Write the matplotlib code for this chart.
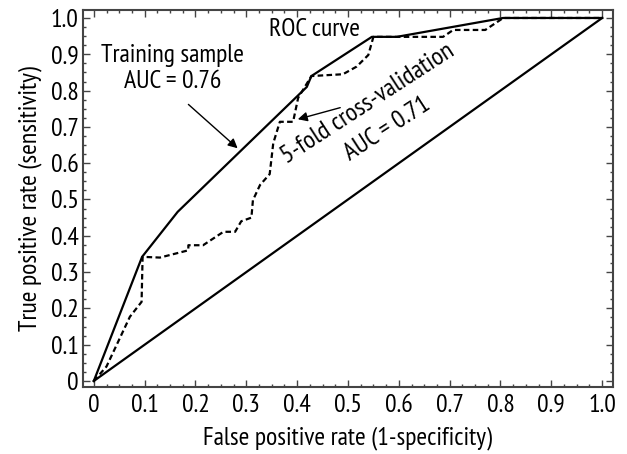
import numpy as np
import matplotlib.pyplot as plt
from matplotlib.ticker import MultipleLocator

plt.rcParams['font.family'] = ['PT Sans Narrow', 'DejaVu Sans']

# ── Data ──
train_fpr = [0.0, 0.095, 0.165, 0.419, 0.428, 0.547, 0.596, 0.805, 1.0]
train_tpr = [0.0, 0.342, 0.466, 0.81, 0.84, 0.948, 0.948, 1.0, 1.0]

cv_fpr = [0.0, 0.025, 0.071, 0.094, 0.096, 0.13, 0.186, 0.186, 0.215, 0.255, 0.278,
          0.29, 0.31, 0.313, 0.327, 0.346, 0.353, 0.366, 0.392, 0.402, 0.428,
          0.49, 0.517, 0.54, 0.55, 0.596, 0.687, 0.707, 0.77, 0.8, 0.805, 1.0]
cv_tpr = [0.0, 0.04, 0.177, 0.218, 0.342, 0.34, 0.36, 0.374, 0.374, 0.411, 0.411,
          0.44, 0.45, 0.498, 0.54, 0.57, 0.655, 0.714, 0.714, 0.78, 0.84,
          0.845, 0.866, 0.898, 0.948, 0.948, 0.948, 0.967, 0.967, 0.995, 1.0, 1.0]

chance = [0.0, 1.0]

ticks = np.round(np.arange(0, 1.01, 0.1), 1)
labels = ['0'] + [f'{t:.1f}' for t in ticks[1:]]

# ── Plot ──
fs = 18.5
fig = plt.figure(figsize=(6.27, 4.54), dpi=100)
ax = fig.add_axes([0.132, 0.1476, 0.846, 0.8304])

ax.plot(train_fpr, train_tpr, 'k-', linewidth=1.6)
ax.plot(cv_fpr, cv_tpr, 'k', linestyle=(0, (2.5, 1.5)), linewidth=1.6)
ax.plot(chance, chance, 'k-', linewidth=1.6)

ax.set_xlim(-0.0217, 1.0217)
ax.set_ylim(-0.0165, 1.022)
ax.set_xticks(ticks)
ax.set_xticklabels(labels)
ax.set_yticks(ticks)
ax.set_yticklabels(labels)
ax.xaxis.set_minor_locator(MultipleLocator(0.025))
ax.yaxis.set_minor_locator(MultipleLocator(0.025))
ax.tick_params(which='both', direction='in', top=True, right=True, color='#444444',
               labelsize=fs)
ax.tick_params(which='major', length=5, width=1)
ax.tick_params(which='minor', length=2.5, width=1)
ax.tick_params(axis='x', pad=5)
ax.tick_params(axis='y', pad=3)
for s in ax.spines.values():
    s.set_color('#444444')
    s.set_linewidth(1.5)

ax.set_xlabel('False positive rate (1-specificity)', fontsize=fs, labelpad=7)
ax.set_ylabel('True positive rate (sensitivity)', fontsize=fs, labelpad=6)

ax.text(0.435, 0.967, 'ROC curve', fontsize=fs, ha='center', va='center')
ax.text(0.155, 0.898, 'Training sample', fontsize=fs, ha='center', va='center')
ax.text(0.155, 0.824, 'AUC = 0.76', fontsize=fs, ha='center', va='center')
ax.annotate('', xy=(0.287, 0.636), xytext=(0.182, 0.767),
            arrowprops=dict(arrowstyle='-|>', color='k', lw=1, mutation_scale=14))

ax.text(0.54, 0.765, '5-fold cross-validation', fontsize=fs, ha='center', va='center',
        rotation=33, rotation_mode='anchor')
ax.text(0.577, 0.695, 'AUC = 0.71', fontsize=fs, ha='center', va='center',
        rotation=33, rotation_mode='anchor')
ax.annotate('', xy=(0.396, 0.719), xytext=(0.49, 0.755),
            arrowprops=dict(arrowstyle='-|>', color='k', lw=1, mutation_scale=14))

plt.savefig('out.png', dpi=100)
